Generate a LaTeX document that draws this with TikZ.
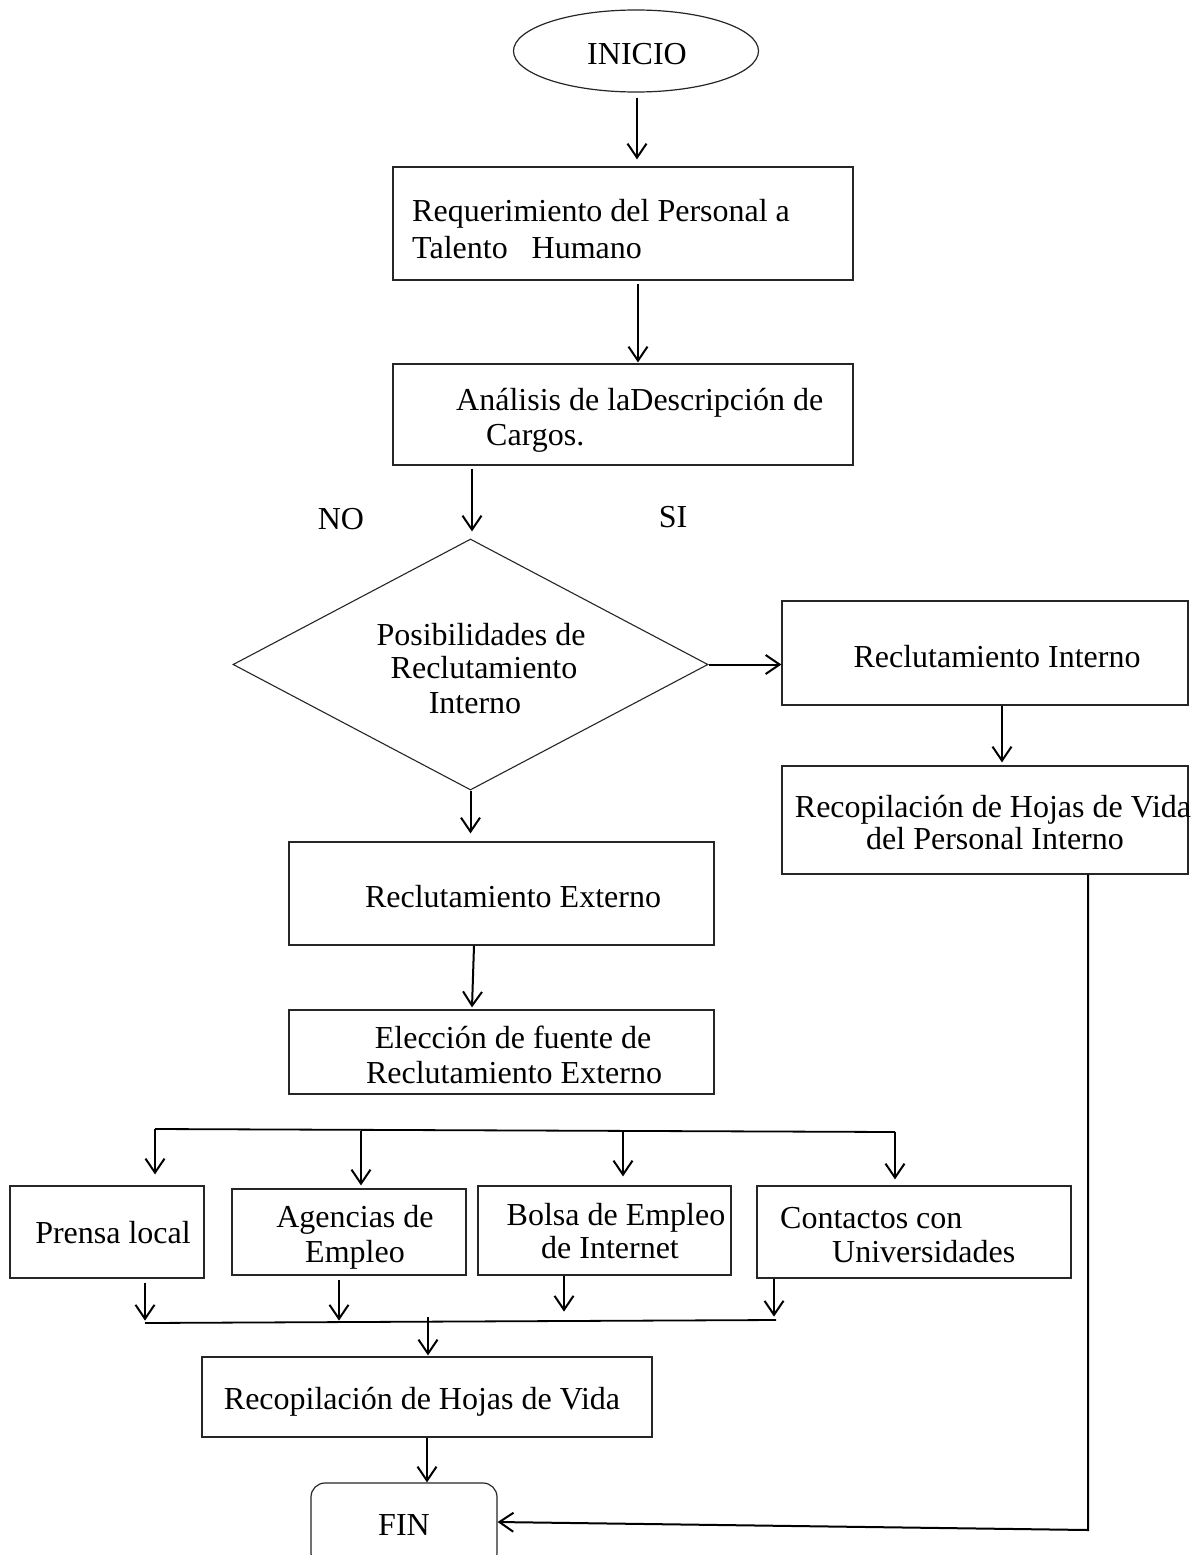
\documentclass[tikz,border=0pt]{standalone}
\usepackage{fontspec}
\setmainfont{Liberation Serif}
\usetikzlibrary{arrows.meta,shapes.geometric,calc}
\begin{document}
\begin{tikzpicture}[x=1pt,y=-1pt,
  box/.style={draw=black!85, line width=1.2pt, rectangle, inner sep=0pt},
  txt/.style={inner sep=0pt, anchor=base, font=\fontsize{32}{35}\selectfont},
  txtw/.style={txt, anchor=base west},
  arr/.style={line width=2pt, -{Straight Barb[length=14pt,width=19pt]}},
  ln/.style={line width=1.8pt}]
\useasboundingbox (0,0) rectangle (1200,1555);
\clip (0,0) rectangle (1200,1555);
\fill[white] (0,0) rectangle (1200,1555);

% shapes
\node[draw=black!85, line width=1.2pt, ellipse, minimum width=245pt, minimum height=82pt, inner sep=0pt] (ini) at (636,51) {};
\node[box, minimum width=460pt, minimum height=113pt] (req) at (623,223.5) {};
\node[box, minimum width=460pt, minimum height=101pt] (ana) at (623,414.5) {};
\node[draw=black!85, line width=1.1pt, diamond, aspect=1.9, inner sep=0pt, minimum width=475pt, minimum height=251pt] (dec) at (470.5,664.5) {};
\node[box, minimum width=406pt, minimum height=104pt] (ri) at (985,653) {};
\node[box, minimum width=406pt, minimum height=108pt] (rhi) at (985,820) {};
\node[box, minimum width=425pt, minimum height=103pt] (re) at (501.5,893.5) {};
\node[box, minimum width=425pt, minimum height=84pt] (el) at (501.5,1052) {};
\node[box, minimum width=194pt, minimum height=92pt] (pr) at (107,1232) {};
\node[box, minimum width=234pt, minimum height=86pt] (ag) at (349,1232) {};
\node[box, minimum width=253pt, minimum height=89pt] (bo) at (604.5,1230.5) {};
\node[box, minimum width=314pt, minimum height=92pt] (co) at (914,1232) {};
\node[box, minimum width=450pt, minimum height=80pt] (rh) at (427,1397) {};
\node[box, rounded corners=14pt, minimum width=186pt, minimum height=84pt] (fin) at (404,1525) {};

% texts
\node[txt] (tini) at (637,65) {INICIO};
\node[txtw] (treq1) at (412,221) {Requerimiento del Personal a};
\node[txtw] (treq2) at (412,258) {Talento\hspace{16pt} Humano};
\node[txtw] (tana1) at (456,410) {Análisis de laDescripción de};
\node[txtw] (tana2) at (486,445) {Cargos.};
\node[txt] (tno) at (341,529) {NO};
\node[txt] (tsi) at (673,527) {SI};
\node[txt] (td1) at (481,645) {Posibilidades de};
\node[txt] (td2) at (484,678) {Reclutamiento};
\node[txt] (td3) at (475,713) {Interno};
\node[txt] (tri) at (997,667) {Reclutamiento Interno};
\node[txt] (trhi1) at (993,817) {Recopilación de Hojas de Vida};
\node[txt] (trhi2) at (995,849) {del Personal Interno};
\node[txt] (tre) at (513,907) {Reclutamiento Externo};
\node[txt] (tel1) at (513,1048) {Elección de fuente de};
\node[txt] (tel2) at (514,1083) {Reclutamiento Externo};
\node[txt] (tpr) at (113,1243) {Prensa local};
\node[txt] (tag1) at (355,1227) {Agencias de};
\node[txt] (tag2) at (355,1262) {Empleo};
\node[txt] (tbo1) at (616,1225) {Bolsa de Empleo};
\node[txt] (tbo2) at (610,1258) {de Internet};
\node[txtw] (tco1) at (780,1228) {Contactos con};
\node[txtw] (tco2) at (832,1262) {Universidades};
\node[txt] (trh) at (422,1409) {Recopilación de Hojas de Vida};
\node[txt] (tfin) at (404,1535) {FIN};

% connectors
\draw[arr] ($(ini.south)+(1,5)$) -- ($(req.north)+(14,-7)$);
\draw[arr] ($(req.south)+(15,3)$) -- ($(ana.north)+(15,-1)$);
\draw[arr] ($(ana.south)+(-151,3)$) -- ($(dec.north)+(1.5,-7)$);
\draw[arr] (dec.east) -- (dec.east -| ri.west);
\draw[arr] ($(ri.south)+(17,0)$) -- ($(rhi.north)+(17,-3)$);
\draw[arr] (dec.south) -- ($(re.north)+(-31,-8)$);
\draw[arr] ($(re.south)+(-27.5,0)$) -- ($(el.north)+(-29.5,-2)$);

% top distribution bus
\coordinate (b1) at (155,1129);
\coordinate (b2) at (895,1132);
\draw[ln] (b1) -- (b2);
\draw[arr] (b1) -- ($(b1 |- pr.north)+(0,-11)$);
\draw[arr] ($(ag.north)+(12,-57)$) -- ($(ag.north)+(12,-3)$);
\draw[arr] ($(bo.north)+(18.5,-54)$) -- ($(bo.north)+(18.5,-9)$);
\draw[arr] (b2) -- ($(b2 |- co.north)+(0,-6)$);

% bottom collecting bus
\draw[arr] ($(pr.south)+(38,4)$) -- ($(pr.south)+(38,42)$);
\draw[arr] ($(ag.south)+(-10,4)$) -- ($(ag.south)+(-10,45)$);
\draw[arr] ($(bo.south)+(-40.5,0)$) -- ($(bo.south)+(-40.5,36)$);
\draw[arr] ($(co.south)+(-140,0)$) -- ($(co.south)+(-140,38)$);
\coordinate (c1) at (145,1323);
\coordinate (c2) at (776,1320);
\draw[ln] (c1) -- (c2);
\draw[arr] ($(rh.north)+(1,-39)$) -- ($(rh.north)+(1,-1)$);
\draw[arr] (rh.south) -- (rh.south |- fin.north);

% return line from internal branch
\coordinate (corner) at (1088,1530);
\draw[arr] ($(rhi.south)+(103,0)$) -- (corner) -- ($(fin.east)+(0,-3)$);
\end{tikzpicture}
\end{document}
